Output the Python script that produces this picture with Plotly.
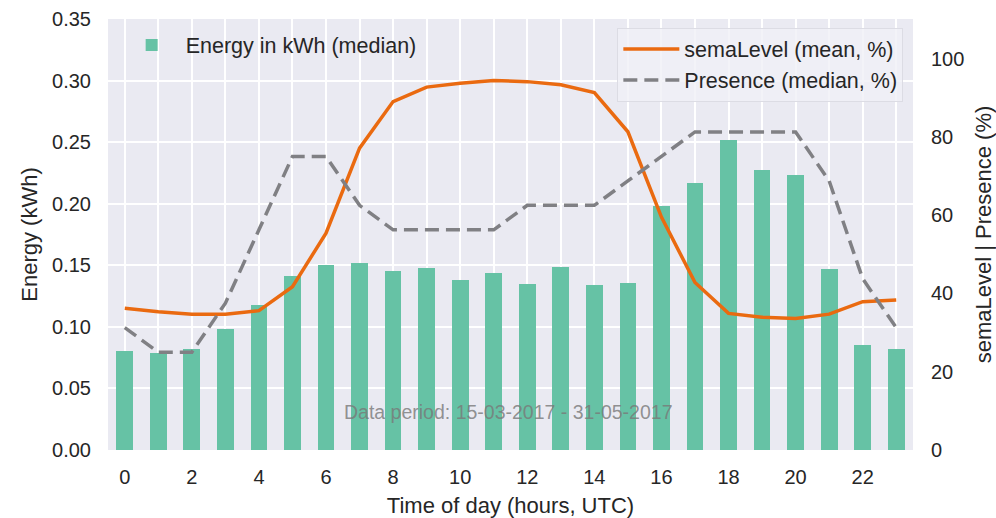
import plotly.graph_objects as go

hours = list(range(24))
energy = [0.080, 0.0785, 0.082, 0.098, 0.118, 0.141, 0.150, 0.1516, 0.145, 0.148, 0.138, 0.1435,
          0.1346, 0.149, 0.1338, 0.1354, 0.198, 0.217, 0.2516, 0.227, 0.223, 0.1468, 0.0853, 0.082]
sema_level = [36.2, 35.3, 34.7, 34.7, 35.6, 41.7, 55.4, 77.1, 89.0, 92.7, 93.7, 94.4,
              94.1, 93.3, 91.3, 81.3, 59.5, 42.8, 34.9, 33.9, 33.6, 34.7, 37.9, 38.3]
presence = [31.25, 25.0, 25.0, 37.5, 56.25, 75.0, 75.0, 62.5, 56.25, 56.25, 56.25, 56.25,
            62.5, 62.5, 62.5, 68.75, 75.0, 81.25, 81.25, 81.25, 81.25, 68.75, 43.75, 31.25]
x_tick_labels = [str(h) if h % 2 == 0 else "" for h in hours]
y_ticks = [0.0, 0.05, 0.10, 0.15, 0.20, 0.25, 0.30, 0.35]
y2_ticks = [0, 20, 40, 60, 80, 100]

FONT = "Liberation Sans, Arial, sans-serif"
TXT = "#262626"

fig = go.Figure()
fig.add_trace(go.Bar(x=hours, y=energy, width=0.5, name="Energy in kWh (median)",
                     marker=dict(color="#66c2a5", line=dict(width=0)),
                     showlegend=True, legend="legend", yaxis="y"))
fig.add_trace(go.Scatter(x=hours, y=sema_level, mode="lines", name="semaLevel (mean, %)",
                         line=dict(color="#ea6a10", width=3.5), yaxis="y2", legend="legend2",
                         showlegend=True))
fig.add_trace(go.Scatter(x=hours, y=presence, mode="lines", name="Presence (median, %)",
                         line=dict(color="#808084", width=3.5, dash="14px,7px"),
                         yaxis="y2", legend="legend2", showlegend=True))

fig.update_layout(
    width=996, height=518,
    margin=dict(l=108, r=83, t=19, b=68),
    paper_bgcolor="white", plot_bgcolor="#EAEAF2",
    font=dict(family=FONT, size=20, color=TXT),
    showlegend=True,
    bargap=0,
    xaxis=dict(range=[-0.5, 23.5], tickvals=hours, ticktext=x_tick_labels,
               showgrid=True, gridcolor="white", gridwidth=1.5, zeroline=False,
               ticks="", ticklabelstandoff=13, showline=False, automargin=False,
               tickfont=dict(size=20),
               title=dict(text="Time of day (hours, UTC)", standoff=10,
                          font=dict(size=22))),
    yaxis=dict(range=[0, 0.35], tickvals=y_ticks, tickformat=".2f",
               showgrid=True, gridcolor="white", gridwidth=1.5, zeroline=False,
               ticks="", ticklabelstandoff=16, showline=False, automargin=False,
               tickfont=dict(size=20),
               title=dict(text="Energy (kWh)", standoff=8, font=dict(size=22))),
    yaxis2=dict(range=[0, 110.1], tickvals=y2_ticks, overlaying="y", side="right",
                showgrid=False, zeroline=False, ticks="", ticklabelstandoff=17,
                automargin=False, tickfont=dict(size=20),
                title=dict(text="semaLevel | Presence (%)", standoff=16, font=dict(size=22))),
    legend=dict(x=0.012, y=0.987, xanchor="left", yanchor="top",
                bgcolor="rgba(0,0,0,0)", borderwidth=0, font=dict(size=21.5, color=TXT),
                itemwidth=58),
    legend2=dict(x=0.988, y=0.98, xanchor="right", yanchor="top",
                 bgcolor="rgba(240,240,246,0.8)", bordercolor="#dcdce4", borderwidth=1,
                 font=dict(size=21.5, color=TXT), itemwidth=56, tracegroupgap=2),
    annotations=[dict(text="Data period: 15-03-2017 - 31-05-2017", xref="paper", yref="paper",
                      x=0.497, y=0.058, showarrow=False,
                      font=dict(size=19.5, color="rgba(120,120,120,0.8)"))],
)

fig.write_html("out.html")
